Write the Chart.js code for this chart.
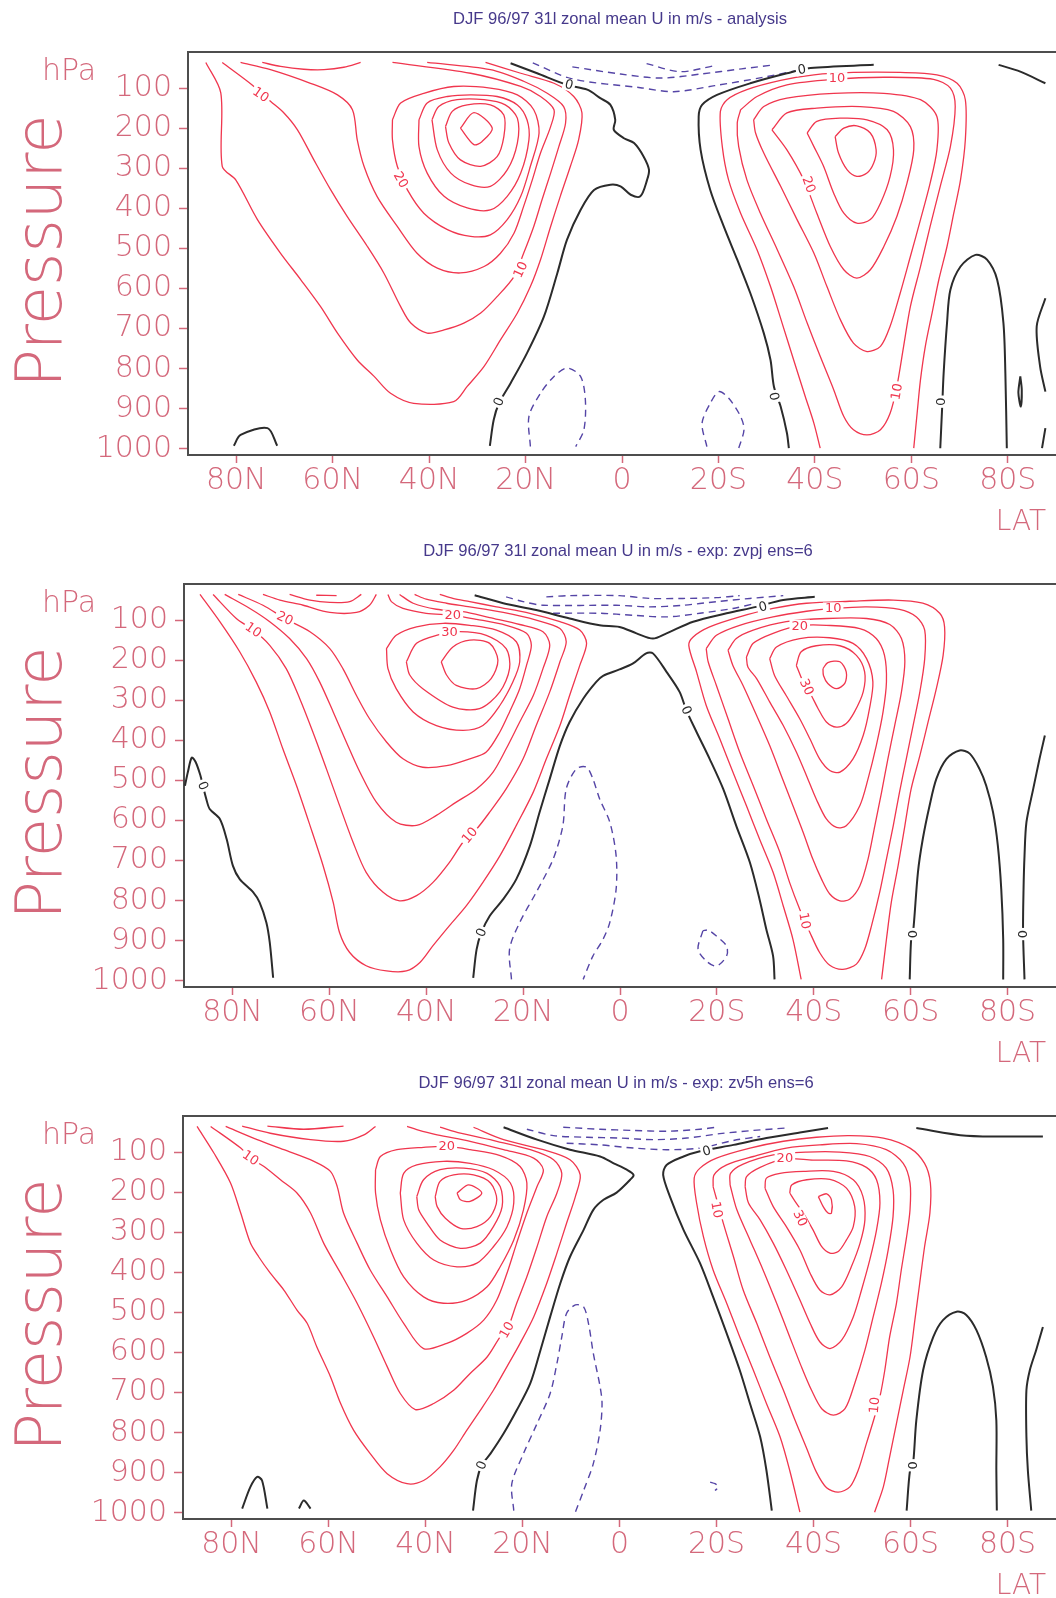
<!DOCTYPE html>
<html>
<head>
<meta charset="utf-8">
<script src="https://cdn.jsdelivr.net/npm/chart.js@4/dist/chart.umd.min.js"></script>
<style>
  html, body { margin: 0; padding: 0; background: #fff; width: 1056px; height: 1598px; overflow: hidden; }
  canvas { position: absolute; left: 0; }
</style>
</head>
<body>
<canvas id="panel1" width="1056" height="531" style="top:0px"></canvas>
<canvas id="panel2" width="1056" height="531" style="top:532px"></canvas>
<canvas id="panel3" width="1056" height="531" style="top:1064px"></canvas>
<script>
// Zonal mean U (m/s), DJF 96/97, latitude (N positive) vs pressure (hPa)
// Contours: red = positive, black = 0, dashed = negative

var latTicks = [80, 60, 40, 20, 0, -20, -40, -60, -80];
var pressureTicks = [100, 200, 300, 400, 500, 600, 700, 800, 900, 1000];

var titles = [
  "DJF 96/97 31l zonal mean U in m/s - analysis",
  "DJF 96/97 31l zonal mean U in m/s - exp: zvpj ens=6",
  "DJF 96/97 31l zonal mean U in m/s - exp: zv5h ens=6"
];

// ---------- panel 1: analysis ----------
var analysisRed = [
  [[86.3,36],[83.2,112],[82.9,295],[80.1,329],[75.6,428],[70.8,512],[66.6,578],[62.5,645],[59.0,711],[54.9,778],[51.4,819],[48.0,861],[43.2,886],[34.9,882],[32.1,844],[28.6,794],[25.2,728],[21.7,661],[19.0,595],[16.9,528],[14.8,445],[12.8,370],[10.7,295],[9.0,229],[8.3,162],[10.0,121],[14.1,88],[21.0,63],[28.3,36]],
  [[82.9,36],[76.7,92],[72.9,133],[70.1,162],[67.3,204],[63.9,279],[60.4,354],[57.0,420],[52.8,495],[49.4,561],[45.9,645],[43.8,686],[40.4,711],[36.9,703],[32.8,686],[29.3,661],[25.9,620],[22.4,570],[20.4,512],[18.3,445],[16.6,379],[14.8,312],[13.1,246],[11.7,187],[12.1,146],[15.5,113],[20.4,83],[27.3,54],[40.4,36]],
  [[79.1,36],[72.9,54],[64.6,88],[59.0,117],[55.9,154],[54.9,229],[53.5,295],[50.8,370],[46.6,445],[42.5,512],[38.3,549],[33.5,561],[28.6,545],[25.2,512],[22.4,462],[20.4,395],[18.6,329],[16.9,262],[14.8,196],[14.1,154],[16.9,121],[21.0,96],[31.4,63],[47.6,36]],
  [[74.6,36],[70.8,46],[66.0,53],[61.8,54],[57.7,48],[54.2,36]],
  [[-41.1,998],[-39.8,936],[-38.0,869],[-35.6,778],[-33.2,686],[-30.8,595],[-28.0,503],[-24.6,412],[-22.1,329],[-20.8,246],[-20.4,158],[-21.8,129],[-25.9,104],[-32.9,81],[-39.8,67],[-48.0,61],[-57.7,61],[-65.3,67],[-69.5,88],[-71.2,129],[-71.2,229],[-70.2,329],[-68.8,412],[-67.4,495],[-65.7,578],[-64.3,661],[-62.9,744],[-61.9,827],[-61.2,911],[-60.5,998]]
];
var analysisRedRings = [
  [[47.6,179],[45.9,137],[41.1,113],[34.9,96],[27.3,100],[21.7,117],[18.3,154],[17.2,212],[19.0,295],[21.0,370],[23.8,428],[27.3,466],[31.4,470],[36.2,453],[41.1,412],[44.5,354],[46.6,295],[47.6,229]],
  [[42.1,179],[40.4,137],[36.2,121],[31.4,117],[25.9,121],[21.7,142],[19.7,179],[19.3,229],[21.0,312],[23.8,370],[27.3,404],[32.1,399],[36.9,370],[40.4,312],[42.1,246]],
  [[39.4,179],[38.0,146],[34.2,129],[28.6,129],[24.2,142],[21.7,175],[21.7,237],[23.8,304],[27.3,345],[31.4,341],[35.5,312],[38.3,254]],
  [[36.6,196],[35.2,158],[32.1,142],[27.3,142],[24.5,167],[24.5,221],[25.9,271],[29.3,295],[33.5,279],[35.9,237]],
  [[33.5,200],[30.7,161],[26.9,200],[29.0,233],[30.7,241]],
  [[-24.6,154],[-28.0,121],[-34.2,92],[-43.9,78],[-54.3,73],[-64.6,78],[-68.1,100],[-69.1,146],[-68.1,246],[-66.0,345],[-63.9,445],[-61.9,545],[-59.8,645],[-58.4,744],[-57.0,844],[-55.6,911],[-53.6,952],[-50.8,965],[-48.0,952],[-46.0,919],[-43.9,852],[-41.1,769],[-38.4,686],[-35.6,595],[-32.2,503],[-28.7,412],[-25.9,329],[-24.2,246],[-23.9,187]],
  [[-27.3,179],[-29.4,146],[-34.2,125],[-43.9,113],[-54.3,113],[-61.9,129],[-65.3,171],[-65.3,254],[-63.9,337],[-61.9,428],[-59.8,520],[-57.7,611],[-55.6,694],[-53.6,744],[-50.8,757],[-48.0,736],[-45.3,678],[-42.5,595],[-39.8,512],[-36.3,428],[-32.9,345],[-29.4,262],[-27.7,212]],
  [[-31.1,204],[-34.2,162],[-40.4,150],[-49.4,146],[-56.3,158],[-59.8,196],[-60.5,254],[-59.1,337],[-57.0,420],[-54.3,495],[-51.5,553],[-48.7,574],[-46.0,553],[-43.2,495],[-40.4,412],[-37.7,329],[-34.2,254]],
  [[-38.4,212],[-40.4,183],[-45.3,175],[-50.8,179],[-55.0,204],[-56.3,254],[-55.6,320],[-53.6,387],[-51.5,428],[-48.7,437],[-46.0,412],[-43.9,362],[-41.8,295],[-39.8,246]],
  [[-44.2,221],[-46.0,200],[-48.7,194],[-51.5,212],[-52.7,254],[-52.2,287],[-50.8,312],[-48.7,320],[-46.7,304],[-44.9,262]]
];
var analysisZero = [
  [[80.5,992],[79.1,965],[73.5,948],[71.5,992]],
  [[23.1,38],[17.6,63],[11.4,92],[7.2,104],[4.5,125],[2.4,142],[1.4,179],[1.7,204],[-0.4,225],[-2.5,237],[-4.5,271],[-5.6,304],[-5.2,329],[-3.8,370],[-1.8,366],[0.3,345],[2.4,341],[5.8,354],[8.6,404],[11.4,478],[13.4,561],[16.2,670],[19.7,761],[23.1,836],[25.5,886],[26.6,927],[27.4,992]],
  [[-52.2,42],[-39.1,50],[-34.2,63],[-26.6,88],[-19.7,117],[-16.6,142],[-15.9,171],[-16.3,254],[-18.3,354],[-21.1,445],[-23.9,528],[-26.6,611],[-29.4,711],[-30.8,778],[-31.5,844],[-32.9,894],[-34.2,960],[-34.6,998]],
  [[-66.0,998],[-66.4,894],[-66.7,811],[-67.4,686],[-68.1,603],[-70.2,545],[-73.3,516],[-75.7,528],[-77.8,578],[-79.1,686],[-79.5,811],[-79.8,998]],
  [[-87.8,624],[-86.0,694],[-86.7,794],[-87.8,857]],
  [[-87.8,948],[-87.1,998]],
  [[-78.1,42],[-82.6,59],[-87.8,88]]
];
var analysisZeroRings = [
  [[-82.6,819],[-82.9,852],[-82.7,894],[-82.2,860]]
];
var analysisNeg = [
  [[18.5,37],[10.3,77],[-3.8,99],[-10.7,109],[-19.2,94],[-28.9,74],[-36.0,57]],
  [[10.3,47],[0.3,65],[-8.0,75],[-16.3,65],[-24.8,52],[-31.6,42]],
  [[-5.1,39],[-12.1,59],[-19.2,44]],
  [[19.0,994],[19.3,919],[16.9,861],[14.1,819],[11.4,798],[8.6,819],[7.6,877],[7.9,952],[9.6,994]],
  [[-17.6,994],[-16.6,936],[-18.3,886],[-20.1,857],[-22.1,873],[-24.6,919],[-25.3,952],[-24.2,998]]
];
var analysisNegRings = [];
var analysisLabels = [
  [74.9,117,"10",35],[45.9,329,"20",60],[21.0,553,"10",-65],[11.0,92,"0",15],[25.5,882,"0",-70],
  [-37.3,54,"0",-10],[-44.6,75,"10",0],[-38.7,341,"20",70],[-31.5,869,"0",80],[-57.0,857,"10",-80],[-66.0,882,"0",90]
];

// ---------- panel 2: zvpj ----------
var zvpjRed = [
  [[86.7,36],[82.6,104],[78.5,179],[75.1,254],[72.3,329],[69.6,421],[66.8,512],[64.0,612],[61.3,712],[59.2,804],[57.9,879],[55.8,929],[52.4,962],[48.2,975],[44.1,975],[41.3,954],[38.6,912],[35.2,862],[31.7,812],[28.3,754],[24.8,688],[21.4,612],[17.9,529],[15.2,446],[12.4,363],[10.4,288],[8.3,213],[6.9,158],[8.3,125],[12.4,104],[18.6,83],[25.5,67],[31.0,54],[34.5,46],[37.2,36]],
  [[84.0,36],[79.2,96],[75.7,125],[72.3,163],[68.9,221],[66.1,296],[63.4,379],[60.6,471],[57.9,562],[55.1,654],[52.4,729],[48.9,779],[45.5,800],[42.0,787],[38.6,754],[35.2,704],[32.4,654],[29.6,621],[26.9,579],[23.5,521],[20.0,446],[17.3,363],[14.5,279],[12.4,204],[11.1,154],[12.4,121],[17.3,100],[24.1,81],[31.0,67],[35.8,58],[40.0,48],[42.4,36]],
  [[81.6,36],[76.4,71],[72.3,104],[68.2,146],[64.7,196],[62.0,254],[59.2,329],[56.5,404],[53.7,479],[50.3,554],[46.2,604],[42.0,612],[37.9,587],[33.8,554],[29.6,521],[26.2,479],[23.5,421],[20.7,354],[17.9,288],[15.9,221],[14.5,163],[15.9,129],[20.7,111],[26.9,94],[32.4,79],[37.9,73],[42.7,58],[45.5,36]],
  [[78.8,36],[73.7,63],[69.2,96],[64.0,129],[59.9,171],[57.2,221],[54.4,288],[51.7,346],[48.2,404],[44.8,446],[40.7,467],[35.8,463],[31.0,446],[27.6,429],[24.8,379],[22.8,329],[20.7,271],[19.3,213],[18.3,163],[19.3,133],[23.5,113],[29.6,98],[34.5,88],[40.0,83],[44.8,71],[47.2,54],[47.9,36]],
  [[73.7,36],[70.2,50],[65.4,63],[59.9,81],[54.4,81],[51.7,63],[50.3,36]],
  [[68.2,36],[64.0,50],[59.9,56],[55.8,54],[53.4,36]],
  [[62.7,38],[58.5,39]],
  [[-37.4,996],[-35.7,896],[-33.7,813],[-31.6,729],[-28.8,646],[-26.1,563],[-23.3,479],[-20.6,396],[-17.8,313],[-15.8,229],[-14.2,163],[-15.1,142],[-18.5,117],[-24.7,92],[-31.6,71],[-38.5,58],[-47.4,53],[-56.4,50],[-62.5,58],[-66.0,83],[-67.0,117],[-66.7,188],[-65.3,271],[-63.6,354],[-61.9,438],[-60.1,521],[-58.8,613],[-57.4,713],[-56.0,804],[-55.0,896],[-54.0,996]]
];
var zvpjRedRings = [
  [[48.2,171],[46.2,138],[42.0,117],[36.5,108],[31.0,113],[25.5,125],[21.4,154],[20.7,204],[22.1,254],[24.8,313],[28.3,363],[32.4,375],[37.9,363],[42.7,329],[46.2,271],[47.9,221]],
  [[44.1,204],[42.0,158],[37.9,138],[33.1,129],[27.6,138],[23.5,171],[22.8,221],[24.8,279],[29.0,321],[34.5,317],[40.7,271],[43.4,237]],
  [[36.9,204],[34.5,167],[31.0,150],[26.9,158],[25.2,200],[26.6,246],[29.6,271],[33.8,263],[35.8,237]],
  [[-17.8,171],[-19.9,138],[-24.7,113],[-31.6,92],[-38.5,78],[-44.0,71],[-50.9,67],[-57.7,73],[-61.2,92],[-62.9,125],[-62.9,196],[-61.9,279],[-60.5,363],[-59.1,446],[-57.7,529],[-56.4,613],[-55.0,696],[-53.6,779],[-51.9,863],[-50.5,921],[-48.8,958],[-46.0,971],[-43.3,961],[-41.2,929],[-39.2,879],[-37.1,821],[-35.0,754],[-33.0,679],[-30.2,596],[-27.5,513],[-24.7,429],[-22.3,346],[-19.9,263],[-18.2,204]],
  [[-22.3,175],[-24.0,146],[-27.5,125],[-34.3,104],[-42.6,96],[-50.9,96],[-55.7,111],[-58.1,146],[-58.8,204],[-58.1,279],[-56.7,363],[-55.3,446],[-54.0,529],[-52.6,613],[-51.2,696],[-49.5,763],[-47.4,796],[-45.4,800],[-43.3,783],[-41.6,746],[-39.8,696],[-37.8,629],[-35.7,563],[-33.3,488],[-30.9,413],[-28.2,338],[-25.4,263],[-23.3,213]],
  [[-26.1,192],[-27.5,158],[-31.6,133],[-37.1,114],[-42.6,113],[-49.5,121],[-52.9,146],[-54.6,188],[-55.0,254],[-54.3,329],[-52.9,413],[-51.2,496],[-49.5,563],[-46.7,613],[-44.7,617],[-42.6,596],[-40.5,546],[-38.5,488],[-36.4,429],[-33.7,363],[-30.9,304],[-28.2,246],[-26.4,217]],
  [[-30.9,196],[-32.3,167],[-37.1,146],[-43.3,144],[-48.1,158],[-50.9,196],[-52.2,254],[-51.5,321],[-50.2,388],[-48.1,446],[-45.4,479],[-43.3,475],[-41.2,446],[-39.2,396],[-37.1,346],[-34.3,288],[-31.9,238]],
  [[-36.4,213],[-37.4,179],[-40.5,164],[-45.4,164],[-48.8,188],[-50.5,229],[-50.2,279],[-48.4,329],[-46.7,358],[-44.7,367],[-42.6,354],[-40.9,321],[-39.5,288],[-37.8,254]],
  [[-41.9,221],[-42.9,206],[-45.4,204],[-46.7,229],[-46.4,258],[-44.7,271],[-42.9,258],[-42.0,238]]
];
var zvpjZero = [
  [[89.8,513],[89.2,479],[88.4,443],[87.6,454],[86.6,488],[86.1,513],[85.4,546],[84.7,571],[82.6,596],[81.2,646],[79.9,713],[78.5,746],[75.7,779],[74.4,804],[73.0,854],[72.3,904],[71.6,992]],
  [[30.3,992],[29.6,921],[28.6,879],[26.9,838],[24.1,796],[21.4,746],[18.6,663],[16.6,579],[14.5,496],[12.4,413],[10.4,354],[7.6,296],[4.9,254],[3.5,239],[0.1,223],[-2.7,208],[-5.4,183],[-6.8,183],[-9.6,229],[-12.3,279],[-13.7,325],[-15.8,379],[-18.5,446],[-21.3,521],[-24.0,613],[-26.8,704],[-28.8,796],[-30.2,871],[-31.6,938],[-31.9,996]],
  [[30.0,38],[24.1,58],[17.3,75],[10.4,96],[4.2,113],[0.1,117],[-3.4,133],[-6.8,146],[-9.6,133],[-15.1,104],[-22.0,83],[-28.1,67],[-33.7,50],[-40.2,42]],
  [[-59.8,996],[-60.1,896],[-60.5,879],[-61.5,729],[-62.5,646],[-63.9,563],[-65.3,496],[-67.4,446],[-70.1,425],[-72.2,433],[-74.2,471],[-75.6,513],[-77.0,579],[-78.0,663],[-78.7,771],[-79.1,896],[-79.1,996]],
  [[-87.7,388],[-86.6,446],[-85.3,521],[-83.9,604],[-83.5,688],[-83.3,771],[-83.2,879],[-83.5,996]]
];
var zvpjZeroRings = [];
var zvpjNeg = [
  [[23.5,42],[20.0,54],[15.9,63],[0.8,63],[-6.1,67],[-13.0,63],[-19.9,54],[-26.8,46],[-33.7,39]],
  [[13.8,83],[4.2,83],[-2.7,88],[-9.6,92],[-16.5,83],[-23.3,71],[-28.1,58]],
  [[15.2,42],[10.4,39],[0.1,39],[-6.1,46],[-13.0,46],[-19.9,44],[-24.7,39]],
  [[22.4,996],[22.8,921],[20.7,854],[17.3,779],[13.8,696],[11.8,613],[11.1,521],[9.0,471],[6.9,467],[5.6,496],[4.2,546],[2.1,604],[0.8,688],[0.8,771],[2.1,854],[3.5,896],[5.6,938],[7.6,996]]
];
var zvpjNegRings = [
  [[-17.1,875],[-16.1,921],[-17.8,950],[-19.9,963],[-22.0,938],[-22.0,913],[-19.9,888],[-18.2,873]]
];
var zvpjLabels = [
  [75.7,125,"10",35],[69.2,96,"20",25],[34.5,88,"20",0],[35.2,129,"30",0],[31.0,637,"10",-50],[86.1,513,"0",70],[28.6,879,"0",-70],
  [-29.5,67,"0",-15],[-44.0,71,"10",0],[-37.1,114,"20",0],[-38.5,267,"30",65],[-13.7,325,"0",65],[-38.1,850,"10",80],[-60.5,883,"0",-90],[-83.2,883,"0",-90]
];

// ---------- panel 3: zv5h ----------
var zv5hRed = [
  [[87.1,36],[83.6,103],[80.2,177],[78.1,252],[76.1,327],[74.4,361],[72.0,402],[69.2,444],[66.5,494],[64.4,527],[62.4,586],[59.6,660],[57.5,727],[54.8,794],[51.4,852],[47.9,902],[43.8,927],[40.4,919],[37.0,885],[34.2,844],[31.5,794],[28.7,744],[26.0,694],[23.2,635],[20.5,577],[17.7,511],[15.0,427],[12.9,352],[10.9,277],[9.1,211],[8.1,157],[10.2,119],[15.7,94],[23.9,69],[30.1,38]],
  [[84.3,36],[78.1,90],[76.1,115],[73.3,136],[69.9,169],[66.5,202],[63.7,252],[61.0,327],[57.5,402],[54.1,477],[50.7,561],[47.9,635],[45.2,702],[42.1,742],[38.3,727],[34.2,694],[30.8,652],[27.3,611],[24.6,561],[23.2,544],[21.2,477],[19.1,411],[17.0,336],[15.0,261],[12.9,202],[11.9,153],[13.6,119],[18.4,94],[25.3,73],[32.8,53],[37.0,38]],
  [[81.2,36],[74.7,69],[69.2,94],[63.0,123],[59.6,148],[58.2,186],[56.9,252],[54.1,327],[51.4,394],[47.9,461],[44.5,527],[40.4,590],[35.6,577],[31.5,552],[28.0,519],[25.3,469],[23.2,402],[21.2,327],[19.1,252],[17.0,186],[15.7,144],[17.7,115],[23.9,94],[30.8,73],[37.6,57],[41.8,44],[43.8,36]],
  [[77.8,35],[72.0,53],[63.7,69],[56.9,73],[52.7,57],[50.3,36]],
  [[72.6,35],[65.1,43],[56.9,35]],
  [[-37.2,998],[-35.1,894],[-33.1,810],[-30.3,727],[-27.6,644],[-24.8,561],[-22.1,477],[-19.3,394],[-17.3,311],[-15.9,227],[-15.4,165],[-16.6,140],[-20.0,115],[-26.9,90],[-33.8,73],[-40.6,63],[-47.5,59],[-54.4,65],[-59.9,90],[-62.9,128],[-64.1,177],[-64.0,252],[-62.9,336],[-61.9,427],[-60.9,519],[-59.9,611],[-58.5,694],[-57.1,777],[-55.7,860],[-54.4,935],[-52.6,998]]
];
var zv5hRedRings = [
  [[50.3,144],[49.3,111],[45.9,94],[40.4,88],[35.6,86],[30.8,94],[24.6,109],[20.5,136],[19.1,177],[19.8,244],[21.8,319],[24.6,386],[27.3,436],[31.5,469],[36.3,477],[40.4,461],[44.5,411],[47.2,344],[49.3,269],[50.3,202]],
  [[45.2,202],[44.5,153],[41.8,132],[36.3,123],[30.8,128],[26.0,144],[22.5,177],[21.8,227],[23.2,286],[26.0,336],[29.4,377],[33.5,386],[38.3,369],[41.8,327],[44.5,269]],
  [[41.8,211],[40.4,169],[37.0,144],[32.1,140],[27.3,153],[24.6,186],[24.2,236],[26.0,286],[28.7,327],[32.8,340],[37.0,319],[39.7,277],[41.4,244]],
  [[38.0,211],[37.0,173],[34.2,157],[30.1,157],[26.6,177],[25.3,219],[26.6,261],[29.4,286],[32.8,290],[35.9,265],[37.6,236]],
  [[33.5,202],[31.1,182],[28.4,202],[30.8,223],[32.8,219]],
  [[-19.3,186],[-19.5,157],[-22.1,132],[-27.6,111],[-34.4,90],[-41.3,82],[-48.9,79],[-55.0,94],[-58.5,128],[-59.9,177],[-59.9,244],[-59.2,311],[-58.1,394],[-57.1,477],[-55.7,561],[-54.7,644],[-53.7,710],[-52.6,760],[-50.9,827],[-49.2,894],[-47.5,935],[-45.1,948],[-42.7,937],[-40.6,898],[-38.6,839],[-36.2,769],[-33.8,694],[-31.0,611],[-28.3,527],[-25.5,444],[-23.5,361],[-21.4,277]],
  [[-22.8,182],[-22.9,153],[-25.5,130],[-31.7,107],[-38.6,100],[-45.4,100],[-51.6,111],[-55.0,140],[-56.4,194],[-56.4,261],[-55.4,344],[-54.0,427],[-52.3,511],[-50.6,594],[-48.5,677],[-46.5,740],[-44.1,756],[-41.7,740],[-39.6,694],[-37.5,635],[-35.1,561],[-32.4,477],[-29.6,394],[-26.9,319],[-24.2,244]],
  [[-25.9,186],[-26.2,161],[-29.0,138],[-34.1,117],[-39.9,120],[-46.8,122],[-50.9,138],[-53.0,169],[-53.7,227],[-53.0,294],[-51.6,369],[-49.9,444],[-48.2,511],[-45.8,569],[-43.4,590],[-41.3,573],[-39.3,527],[-37.2,469],[-34.4,394],[-31.7,327],[-29.0,269],[-26.6,227]],
  [[-30.0,190],[-30.3,165],[-33.1,153],[-37.9,148],[-44.1,148],[-48.2,169],[-50.2,211],[-50.6,269],[-49.6,327],[-47.8,386],[-45.8,436],[-43.4,456],[-41.3,444],[-39.3,402],[-37.2,344],[-34.4,286],[-31.7,236]],
  [[-35.1,202],[-35.5,182],[-38.6,169],[-43.4,168],[-46.8,190],[-48.5,236],[-48.2,286],[-46.8,319],[-45.1,348],[-43.4,352],[-41.7,336],[-39.9,294],[-37.9,252],[-36.2,223]],
  [[-41.0,211],[-42.7,204],[-43.7,219],[-43.7,252],[-43.0,252],[-42.0,236]]
];
var zv5hZero = [
  [[77.8,989],[76.1,935],[74.7,910],[73.7,919],[72.6,989]],
  [[66.1,989],[65.1,969],[63.7,989]],
  [[30.2,994],[29.4,919],[28.4,881],[26.6,852],[23.9,802],[21.2,744],[18.4,677],[16.3,594],[14.3,511],[12.2,427],[10.2,361],[7.4,294],[5.4,244],[3.3,219],[0.6,201],[-2.2,169],[-2.9,157],[-1.5,144],[1.2,128],[4.0,111],[10.2,94],[17.0,69],[23.9,38]],
  [[-43.0,40],[-37.2,51],[-30.3,65],[-23.5,82],[-16.6,98],[-13.2,111],[-9.7,132],[-9.0,157],[-10.4,211],[-13.2,294],[-16.6,377],[-19.3,461],[-22.1,552],[-24.8,644],[-26.9,727],[-29.0,810],[-30.3,894],[-31.4,994]],
  [[-59.2,994],[-59.9,894],[-60.5,881],[-61.2,769],[-62.6,644],[-64.7,561],[-66.7,519],[-69.5,498],[-71.5,506],[-73.6,544],[-75.6,611],[-77.0,685],[-77.7,769],[-77.7,894],[-77.8,994]],
  [[-87.3,536],[-85.9,594],[-84.6,644],[-83.9,694],[-83.9,810],[-84.2,894],[-84.9,994]],
  [[-61.2,40],[-71.5,59],[-87.3,61]]
];
var zv5hZeroRings = [];
var zv5hNeg = [
  [[19.1,43],[13.6,59],[6.7,63],[-0.1,65],[-7.0,69],[-13.9,65],[-20.7,54],[-27.6,46],[-34.4,40]],
  [[10.9,78],[4.0,82],[-2.9,90],[-9.7,94],[-16.6,90],[-23.5,71],[-29.0,61]],
  [[11.6,38],[4.0,43],[-2.9,46],[-9.7,48],[-16.6,43],[-20.0,38]],
  [[21.8,994],[22.2,927],[19.8,852],[17.0,777],[14.3,702],[12.9,627],[11.9,561],[10.9,502],[9.1,481],[7.4,486],[6.4,527],[5.4,602],[4.0,685],[3.6,727],[4.0,794],[5.4,877],[7.4,944],[9.1,998]],
  [[-18.7,923],[-19.7,927],[-20.4,935],[-19.7,944]]
];
var zv5hNegRings = [];
var zv5hLabels = [
  [76.1,115,"10",35],[35.6,86,"20",0],[23.2,544,"10",-60],[28.4,881,"0",-70],
  [-18.0,98,"0",-15],[-34.1,114,"20",0],[-20.0,244,"10",80],[-37.2,265,"30",65],[-52.6,731,"10",-85],[-60.5,881,"0",-90]
];

// ---------- styling ----------
var FONT = "'DejaVu Sans', sans-serif";
var RED = "#f0364e";
var BLACK = "#2b2b2b";
var BLUE = "#5545a6";
var LABEL = "#d4687b";
var FRAME = "#4d4d4d";
var TITLE = "#46398b";

function contour(pts, color, width, dash, closed) {
  var data = pts.map(function (p) { return { x: p[0], y: p[1] }; });
  if (closed) data.push({ x: pts[0][0], y: pts[0][1] });
  return {
    data: data,
    showLine: true,
    borderColor: color,
    borderWidth: width,
    borderDash: dash,
    pointRadius: 0,
    pointHoverRadius: 0,
    tension: 0.3,
    fill: false
  };
}

var decor = {
  id: "decor",
  afterDatasetsDraw: function (chart, args, opts) {
    var ctx = chart.ctx;
    var xs = chart.scales.x, ys = chart.scales.y;
    ctx.save();
    ctx.font = "13px " + FONT;
    ctx.textAlign = "center";
    ctx.textBaseline = "middle";
    opts.labels.forEach(function (l) {
      var x = xs.getPixelForValue(l[0]);
      var y = ys.getPixelForValue(l[1]);
      var w = ctx.measureText(l[2]).width;
      ctx.save();
      ctx.translate(x, y);
      ctx.rotate(l[3] * Math.PI / 180);
      ctx.fillStyle = "#fff";
      ctx.fillRect(-w / 2 - 2, -6, w + 4, 12);
      ctx.fillStyle = l[2] === "0" ? BLACK : RED;
      ctx.fillText(l[2], 0, 0.5);
      ctx.restore();
    });
    ctx.restore();
  },
  afterDraw: function (chart, args, opts) {
    var ctx = chart.ctx;
    var a = chart.chartArea;
    ctx.save();
    // top frame line
    ctx.strokeStyle = FRAME;
    ctx.lineWidth = 2;
    ctx.beginPath();
    ctx.moveTo(a.left - 1, a.top);
    ctx.lineTo(a.right, a.top);
    ctx.stroke();
    // title
    ctx.fillStyle = TITLE;
    ctx.font = "16.6px 'Liberation Sans', Arial, sans-serif";
    ctx.textAlign = "center";
    ctx.textBaseline = "middle";
    ctx.fillText(opts.title, opts.titleX, 19);
    // axis words
    ctx.fillStyle = LABEL;
    ctx.font = "200 30px " + FONT;
    ctx.textAlign = "left";
    ctx.textBaseline = "alphabetic";
    ctx.fillText("hPa", 42, 80);
    ctx.font = "200 28px " + FONT;
    ctx.textAlign = "right";
    ctx.fillText("LAT", 1046, 530);
    ctx.translate(61, 251);
    ctx.rotate(-Math.PI / 2);
    ctx.font = "200 64px " + FONT;
    ctx.textAlign = "center";
    ctx.fillText("Pressure", 0, 0);
    ctx.restore();
  }
};

function buildPanel(id, axisWidth, title, titleX, red, redRings, zero, zeroRings, neg, negRings, labels) {
  var datasets = [];
  red.forEach(function (c) { datasets.push(contour(c, RED, 1.3, [], false)); });
  redRings.forEach(function (c) { datasets.push(contour(c, RED, 1.3, [], true)); });
  zero.forEach(function (c) { datasets.push(contour(c, BLACK, 2, [], false)); });
  zeroRings.forEach(function (c) { datasets.push(contour(c, BLACK, 2, [], true)); });
  neg.forEach(function (c) { datasets.push(contour(c, BLUE, 1.4, [7, 5], false)); });
  negRings.forEach(function (c) { datasets.push(contour(c, BLUE, 1.4, [7, 5], true)); });

  new Chart(document.getElementById(id), {
    type: "scatter",
    data: { datasets: datasets },
    options: {
      responsive: false,
      maintainAspectRatio: false,
      animation: false,
      devicePixelRatio: 1,
      layout: { padding: { top: 52, right: 0, bottom: 0, left: 0 } },
      plugins: {
        legend: { display: false },
        tooltip: { enabled: false },
        decor: { title: title, titleX: titleX, labels: labels }
      },
      scales: {
        x: {
          type: "linear",
          min: -90,
          max: 90,
          reverse: true,
          afterBuildTicks: function (axis) {
            axis.ticks = latTicks.map(function (v) { return { value: v }; });
          },
          afterFit: function (s) { s.height = 76; },
          ticks: {
            autoSkip: false,
            maxRotation: 0,
            padding: 0,
            color: LABEL,
            font: { family: FONT, size: 30, weight: "200" },
            callback: function (v) {
              if (v > 0) return v + "N";
              if (v < 0) return (-v) + "S";
              return "0";
            }
          },
          grid: { drawOnChartArea: false, tickLength: 8, tickColor: LABEL, tickWidth: 1.5 },
          border: { color: FRAME, width: 2 }
        },
        y: {
          type: "linear",
          min: 10,
          max: 1015,
          reverse: true,
          afterBuildTicks: function (axis) {
            axis.ticks = pressureTicks.map(function (v) { return { value: v }; });
          },
          afterFit: function (s) { s.width = axisWidth; },
          ticks: {
            padding: 7,
            color: LABEL,
            font: { family: FONT, size: 30, weight: "200" },
            callback: function (v) { return String(v); }
          },
          grid: { drawOnChartArea: false, tickLength: 9, tickColor: LABEL, tickWidth: 1.5 },
          border: { color: FRAME, width: 2 }
        }
      }
    },
    plugins: [decor]
  });
}

buildPanel("panel1", 188, titles[0], 620, analysisRed, analysisRedRings, analysisZero, analysisZeroRings, analysisNeg, analysisNegRings, analysisLabels);
buildPanel("panel2", 184, titles[1], 618, zvpjRed, zvpjRedRings, zvpjZero, zvpjZeroRings, zvpjNeg, zvpjNegRings, zvpjLabels);
buildPanel("panel3", 183, titles[2], 616, zv5hRed, zv5hRedRings, zv5hZero, zv5hZeroRings, zv5hNeg, zv5hNegRings, zv5hLabels);
</script>
</body>
</html>
